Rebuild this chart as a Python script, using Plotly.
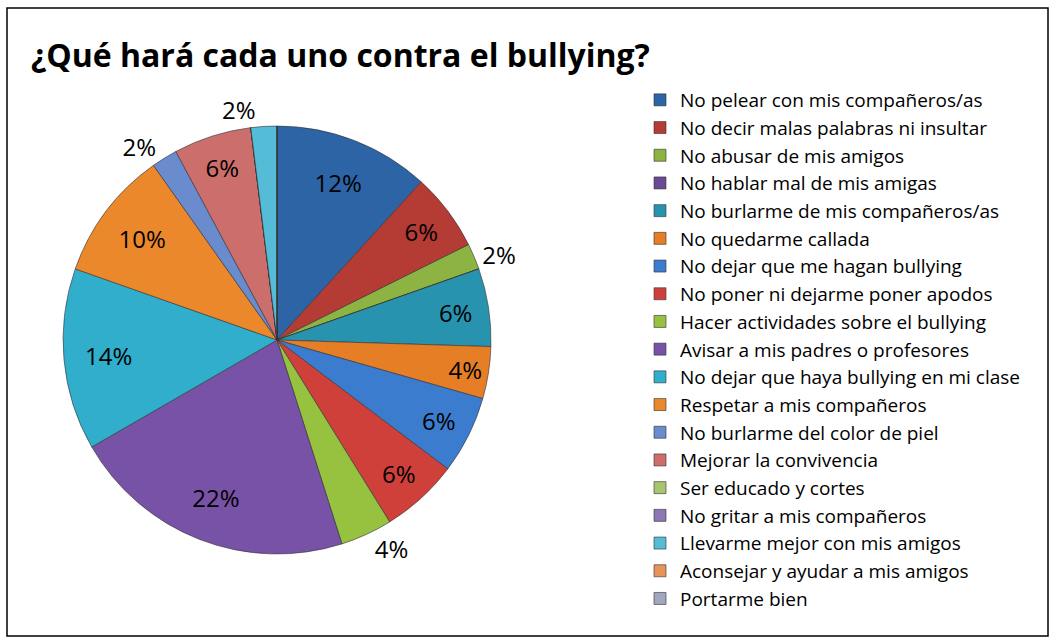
import plotly.graph_objects as go

title = "¿Qué hará cada uno contra el bullying?"
categories = [
    "No pelear con mis compañeros/as",
    "No decir malas palabras ni insultar",
    "No abusar de mis amigos",
    "No hablar mal de mis amigas",
    "No burlarme de mis compañeros/as",
    "No quedarme callada",
    "No dejar que me hagan bullying",
    "No poner ni dejarme poner apodos",
    "Hacer actividades sobre el bullying",
    "Avisar a mis padres o profesores",
    "No dejar que haya bullying en mi clase",
    "Respetar a mis compañeros",
    "No burlarme del color de piel",
    "Mejorar la convivencia",
    "Ser educado y cortes",
    "No gritar a mis compañeros",
    "Llevarme mejor con mis amigos",
    "Aconsejar y ayudar a mis amigos",
    "Portarme bien",
]
percent_values = [12, 6, 2, 0, 6, 4, 6, 6, 4, 22, 14, 10, 2, 6, 0, 0, 2, 0, 0]
# label placement as in the original (Excel "best fit")
label_outside = [False, False, True, False, False, False, False, False, True,
                 False, False, False, True, False, False, False, True, False, False]

colors = [
    "#2C64A6", "#B53B35", "#8DB443", "#6A4A94", "#2893AF", "#E67E26",
    "#3C7CCE", "#D0403A", "#97C240", "#7852A6", "#30AECC", "#EC882C",
    "#6A8BCE", "#CC6E6C", "#A8C56E", "#8E76B4", "#55BCD7", "#E8935A",
    "#A0A8C0",
]

outer_pos = ["outside" if (v > 0 and o) else "none" for v, o in zip(percent_values, label_outside)]
inner_pos = ["inside" if (v > 0 and not o) else "none" for v, o in zip(percent_values, label_outside)]

FONT = "Open Sans"
DOMAIN = dict(x=[0.0597, 0.465], y=[0.1398, 0.8043])

fig = go.Figure()
# coloured pie (outside labels)
fig.add_trace(go.Pie(
    labels=categories,
    values=percent_values,
    sort=False,
    direction="clockwise",
    rotation=0,
    marker=dict(colors=colors, line=dict(color="rgba(50,50,50,0.6)", width=1)),
    texttemplate="%{percent:.0%}",
    textposition=outer_pos,
    textfont=dict(family=FONT, size=24, color="black"),
    outsidetextfont=dict(family=FONT, size=24, color="black"),
    domain=DOMAIN,
    hoverinfo="label+percent",
    showlegend=True,
))
# transparent ring carrying the inside labels near the rim
fig.add_trace(go.Pie(
    labels=categories,
    values=percent_values,
    sort=False,
    direction="clockwise",
    rotation=0,
    hole=0.58,
    marker=dict(colors=["rgba(0,0,0,0)"] * len(categories), line=dict(width=0)),
    texttemplate="%{percent:.0%}",
    textposition=inner_pos,
    insidetextorientation="horizontal",
    insidetextfont=dict(family=FONT, size=24, color="black"),
    domain=DOMAIN,
    hoverinfo="skip",
    showlegend=False,
))

fig.update_layout(
    width=1056, height=644,
    margin=dict(l=0, r=0, t=0, b=0),
    paper_bgcolor="white",
    plot_bgcolor="white",
    font=dict(family=FONT, color="black"),
    uniformtext=dict(mode="show", minsize=24),
    title=dict(
        text="<b>" + title + "</b>",
        x=31 / 1056, xanchor="left",
        y=1 - 56 / 644, yanchor="middle",
        font=dict(family=FONT, size=32, color="black"),
    ),
    legend=dict(
        x=640 / 1056, xanchor="left",
        y=1 - 81 / 644, yanchor="top",
        font=dict(family=FONT, size=19, color="black"),
        bgcolor="rgba(0,0,0,0)",
        traceorder="normal",
    ),
    shapes=[dict(
        type="rect", xref="paper", yref="paper",
        x0=7 / 1056, x1=1048 / 1056, y0=1 - 636 / 644, y1=1 - 8 / 644,
        line=dict(color="black", width=1.5), fillcolor="rgba(0,0,0,0)",
    )],
)

fig.write_html("out.html", config={"displayModeBar": False},
               post_script="document.body.style.margin='0';")
